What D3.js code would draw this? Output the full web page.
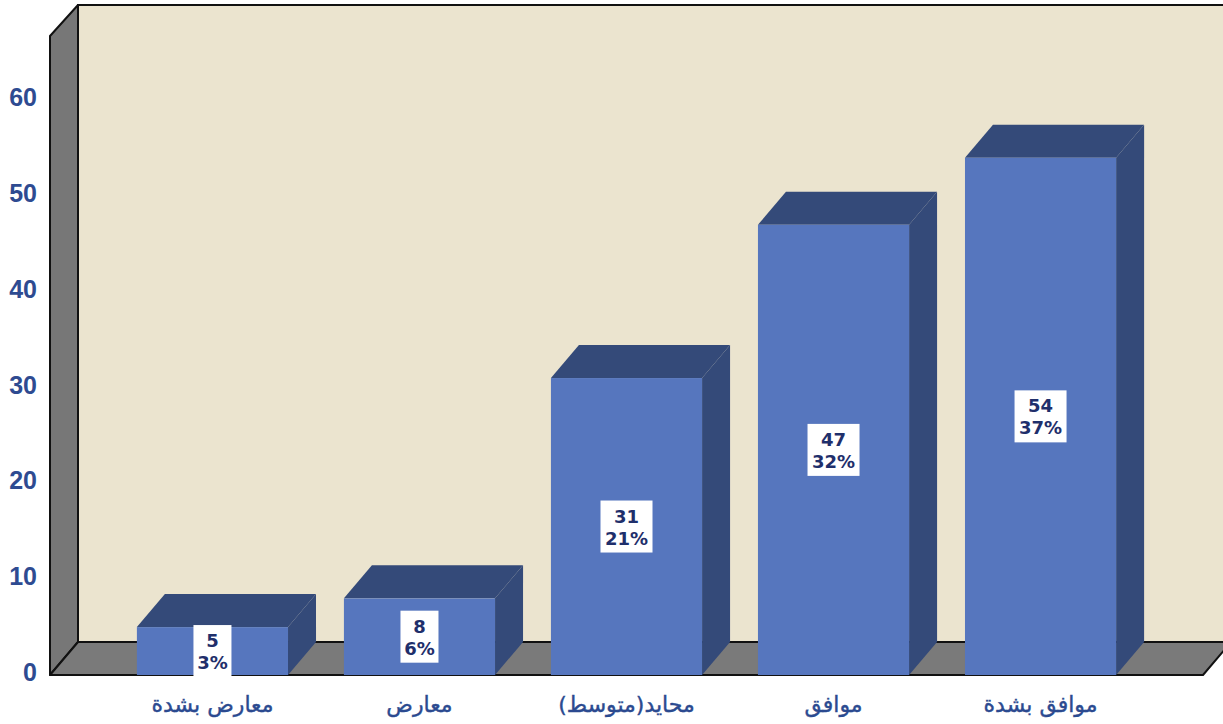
<!DOCTYPE html>
<html>
<head>
<meta charset="utf-8">
<script src="https://cdn.jsdelivr.net/npm/d3@7"></script>
<style>
  html, body { margin: 0; padding: 0; background: #fff; }
  svg { display: block; }
</style>
</head>
<body>
<div id="chart"></div>
<script>
const categories = ['معارض بشدة', 'معارض', 'محايد(متوسط)', 'موافق', 'موافق بشدة'];
const counts = [5, 8, 31, 47, 54];
const percents = ['3%', '6%', '21%', '32%', '37%'];
const yTicks = [0, 10, 20, 30, 40, 50, 60];

const W = 1223, H = 724;
const depth = { dx: 28, dy: 33 };
const plot = { left: 50, right: 1203, floor: 675 };

const svg = d3.select('#chart').append('svg')
  .attr('width', W).attr('height', H);

// y runs on the front plane; the wall top sits at the domain max
const y = d3.scaleLinear().domain([0, 66.5]).range([plot.floor, 38]);
const x = d3.scaleBand().domain(categories).range([81, 1172]).padding(0.27);

const yMax = y.domain()[1];

// back wall
svg.append('rect')
  .attr('x', plot.left + depth.dx).attr('y', y(yMax) - depth.dy)
  .attr('width', plot.right - plot.left)
  .attr('height', y(0) - y(yMax))
  .attr('fill', '#ebe4cf').attr('stroke', '#111').attr('stroke-width', 2);

// left wall
svg.append('path')
  .attr('d', `M${plot.left},${y(yMax) - 2}L${plot.left + depth.dx},${y(yMax) - depth.dy}` +
    `L${plot.left + depth.dx},${y(0) - depth.dy}L${plot.left},${y(0)}Z`)
  .attr('fill', '#777').attr('stroke', '#111').attr('stroke-width', 2)
  .attr('stroke-linejoin', 'round');

// floor
svg.append('path')
  .attr('d', `M${plot.left},${y(0)}L${plot.left + depth.dx},${y(0) - depth.dy}` +
    `L${plot.right + depth.dx},${y(0) - depth.dy}L${plot.right},${y(0)}Z`)
  .attr('fill', '#7a7a7a').attr('stroke', '#111').attr('stroke-width', 2)
  .attr('stroke-linejoin', 'round');

// y axis labels
svg.append('g').selectAll('text')
  .data(yTicks).enter().append('text')
  .attr('x', 37).attr('y', (d) => y(d) - 3)
  .attr('text-anchor', 'end').attr('dominant-baseline', 'central')
  .attr('font-family', 'Liberation Sans, Arial, sans-serif')
  .attr('font-weight', 'bold')
  .attr('font-size', 25).attr('fill', '#2e4b91')
  .text((d) => d);

// bars
const bars = svg.append('g').selectAll('g')
  .data(categories).enter().append('g');

bars.append('path') // top face
  .attr('d', (d, i) => {
    const x0 = x(d), x1 = x(d) + x.bandwidth(), yt = y(counts[i]);
    return `M${x0},${yt}L${x0 + depth.dx},${yt - depth.dy}L${x1 + depth.dx},${yt - depth.dy}L${x1},${yt}Z`;
  })
  .attr('fill', '#344a79');

bars.append('path') // side face
  .attr('d', (d, i) => {
    const x1 = x(d) + x.bandwidth(), yt = y(counts[i]);
    return `M${x1},${yt}L${x1 + depth.dx},${yt - depth.dy}L${x1 + depth.dx},${y(0) - depth.dy}L${x1},${y(0)}Z`;
  })
  .attr('fill', '#344a79');

bars.append('rect') // front face
  .attr('x', (d) => x(d))
  .attr('y', (d, i) => y(counts[i]))
  .attr('width', x.bandwidth())
  .attr('height', (d, i) => y(0) - y(counts[i]))
  .attr('fill', '#5676be');

// value labels
const labels = bars.append('g')
  .attr('transform', (d, i) =>
    `translate(${x(d) + x.bandwidth() / 2},${(y(counts[i]) + y(0)) / 2})`);

labels.append('rect')
  .attr('x', (d, i) => (percents[i].length > 2 ? -26 : -19))
  .attr('y', -26)
  .attr('width', (d, i) => (percents[i].length > 2 ? 52 : 38))
  .attr('height', 52)
  .attr('fill', '#fff');

labels.append('text')
  .attr('text-anchor', 'middle')
  .attr('font-family', 'DejaVu Sans, sans-serif')
  .attr('font-weight', 'bold')
  .attr('font-size', 18).attr('fill', '#1f2f6b')
  .call((t) => {
    t.append('tspan').attr('x', 0).attr('y', -4).text((d, i) => counts[i]);
    t.append('tspan').attr('x', 0).attr('y', 18).text((d, i) => percents[i]);
  });

// category labels
svg.append('g').selectAll('text')
  .data(categories).enter().append('text')
  .attr('x', (d) => x(d) + x.bandwidth() / 2)
  .attr('y', 712)
  .attr('text-anchor', 'middle')
  .attr('font-family', 'DejaVu Sans, sans-serif')
  .attr('font-size', 22).attr('fill', '#2b4a90')
  .attr('stroke', '#2b4a90').attr('stroke-width', 0.4)
  .text((d) => d);
</script>
</body>
</html>
